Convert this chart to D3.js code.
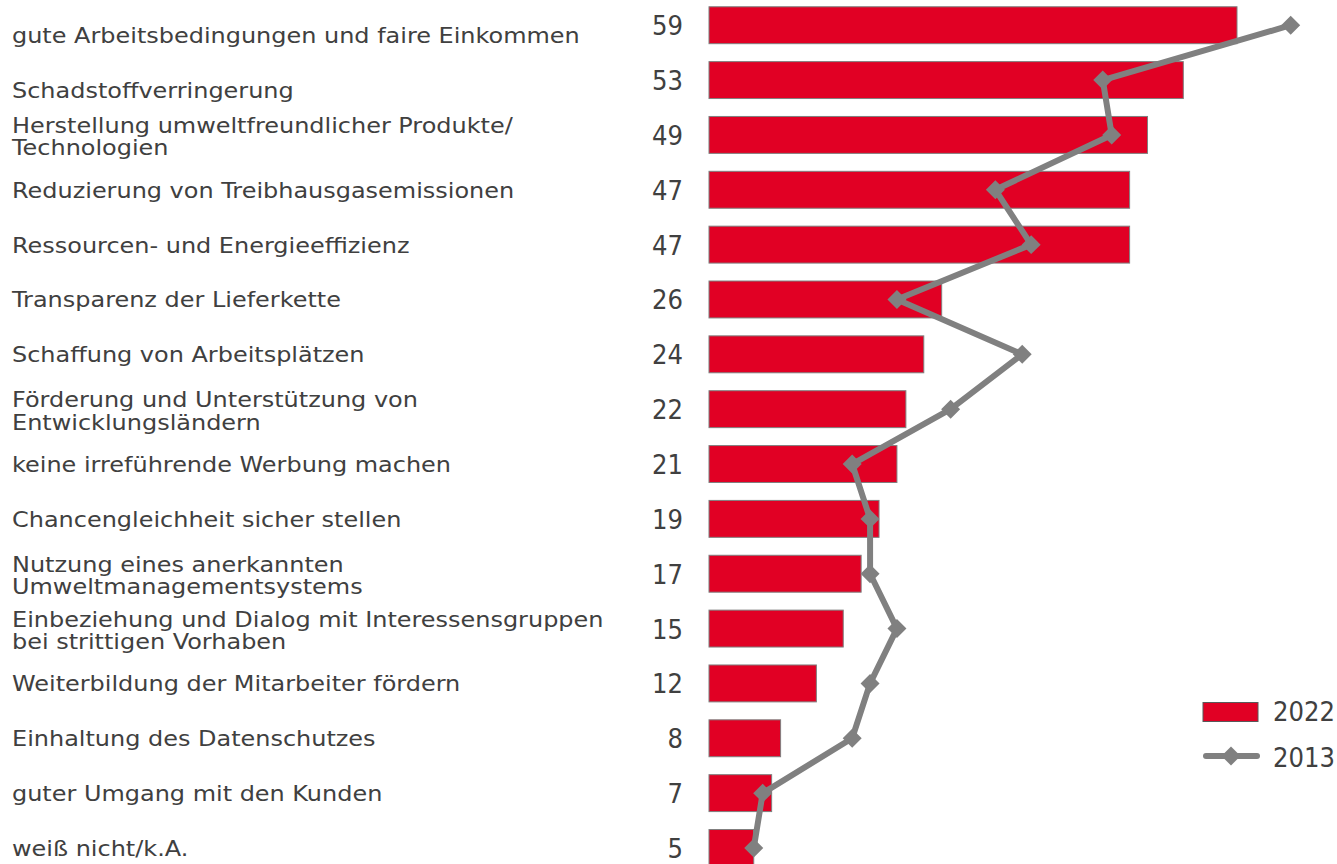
<!DOCTYPE html>
<html>
<head>
<meta charset="utf-8">
<script src="https://cdn.jsdelivr.net/npm/d3@7"></script>
<style>
  body { margin: 0; background: #fff; }
  svg { display: block; }
  text { font-family: "DejaVu Sans", Verdana, sans-serif; fill: #404040; }
</style>
</head>
<body>
<script>
// Kategorien (Zeilenumbruch mit \n)
const categories = [
  "gute Arbeitsbedingungen und faire Einkommen",
  "Schadstoffverringerung",
  "Herstellung umweltfreundlicher Produkte/\nTechnologien",
  "Reduzierung von Treibhausgasemissionen",
  "Ressourcen- und Energieeffizienz",
  "Transparenz der Lieferkette",
  "Schaffung von Arbeitsplätzen",
  "Förderung und Unterstützung von\nEntwicklungsländern",
  "keine irreführende Werbung machen",
  "Chancengleichheit sicher stellen",
  "Nutzung eines anerkannten\nUmweltmanagementsystems",
  "Einbeziehung und Dialog mit Interessensgruppen\nbei strittigen Vorhaben",
  "Weiterbildung der Mitarbeiter fördern",
  "Einhaltung des Datenschutzes",
  "guter Umgang mit den Kunden",
  "weiß nicht/k.A."
];
const values2022 = [59, 53, 49, 47, 47, 26, 24, 22, 21, 19, 17, 15, 12, 8, 7, 5];
const values2013 = [65, 44, 45, 32, 36, 21, 35, 27, 16, 18, 18, 21, 18, 16, 6, 5];
const seriesNames = ["2022", "2013"];

const width = 1337, height = 864;
const barColor = "#e10024";
const lineColor = "#808080";
const step = 54.85;

const svg = d3.select("body").append("svg")
  .attr("width", width)
  .attr("height", height);

const x = d3.scaleLinear().domain([0, 59]).range([709, 1237]);
const y = d3.scaleBand()
  .domain(categories)
  .range([-2.2, -2.2 + categories.length * step])
  .paddingInner(0.327)
  .paddingOuter(0.1635);
const cy = (c) => y(c) + y.bandwidth() / 2;

// Balken 2022
svg.selectAll(".bar").data(categories).enter().append("rect")
  .attr("class", "bar")
  .attr("x", x(0))
  .attr("y", (c) => y(c))
  .attr("width", (c, i) => x(values2022[i]) - x(0))
  .attr("height", y.bandwidth())
  .attr("fill", barColor)
  .attr("stroke", "#7f7f7f")
  .attr("stroke-width", 1);

// Kategorie-Beschriftungen (die ersten beiden sitzen im Original etwas tiefer)
const labelGroup = svg.append("g");
categories.forEach((c, i) => {
  const lines = c.split("\n");
  const t = labelGroup.append("text")
    .attr("x", 0)
    .style("font-size", "21.5px");
  if (lines.length === 1) {
    t.attr("y", cy(c) + (i < 2 ? 18 : 8)).text(lines[0]);
  } else {
    lines.forEach((l, k) => {
      t.append("tspan").attr("x", 0).attr("y", cy(c) - 2 + k * 22.5).text(l);
    });
  }
});
// Schriftbreite an das Original angleichen
const probe = labelGroup.select("text").node().getComputedTextLength();
const sx = 568 / probe;
labelGroup.attr("transform", `translate(12,0) scale(${sx},1)`);

// Werte
const valueTexts = svg.selectAll(".val").data(categories).enter().append("text")
  .attr("class", "val")
  .attr("text-anchor", "end")
  .style("font-size", "27px")
  .text((c, i) => values2022[i]);
const vw = valueTexts.filter((c, i) => i === 0).node().getComputedTextLength();
const vsx = 31 / vw;
valueTexts.attr("transform", (c) => `translate(683,${cy(c) + 10}) scale(${vsx},1)`);

// Linie 2013
const line = d3.line()
  .x((d) => x(d.v))
  .y((d) => cy(d.c));
const pts = categories.map((c, i) => ({ c: c, v: values2013[i] }));
svg.append("path")
  .datum(pts)
  .attr("d", line)
  .attr("fill", "none")
  .attr("stroke", lineColor)
  .attr("stroke-width", 6)
  .attr("stroke-linejoin", "round");

const diamond = d3.symbol().type(d3.symbolDiamond2).size(230);
svg.selectAll(".pt").data(pts).enter().append("path")
  .attr("class", "pt")
  .attr("transform", (d) => `translate(${x(d.v)},${cy(d.c)})`)
  .attr("d", diamond)
  .attr("fill", lineColor);

// Legende
const legend = svg.append("g");
legend.append("rect")
  .attr("x", 1203).attr("y", 702.5)
  .attr("width", 55).attr("height", 19)
  .attr("fill", barColor)
  .attr("stroke", "#595959")
  .attr("stroke-width", 1);
legend.append("line")
  .attr("x1", 1206).attr("x2", 1257)
  .attr("y1", 756).attr("y2", 756)
  .attr("stroke", lineColor)
  .attr("stroke-width", 6)
  .attr("stroke-linecap", "round");
legend.append("path")
  .attr("transform", "translate(1231,756)")
  .attr("d", diamond)
  .attr("fill", lineColor);
legend.selectAll(".lt").data(seriesNames).enter().append("text")
  .attr("class", "lt")
  .attr("transform", (d, i) => `translate(1273,${721 + i * 46}) scale(${vsx},1)`)
  .style("font-size", "27px")
  .text((d) => d);
</script>
</body>
</html>
